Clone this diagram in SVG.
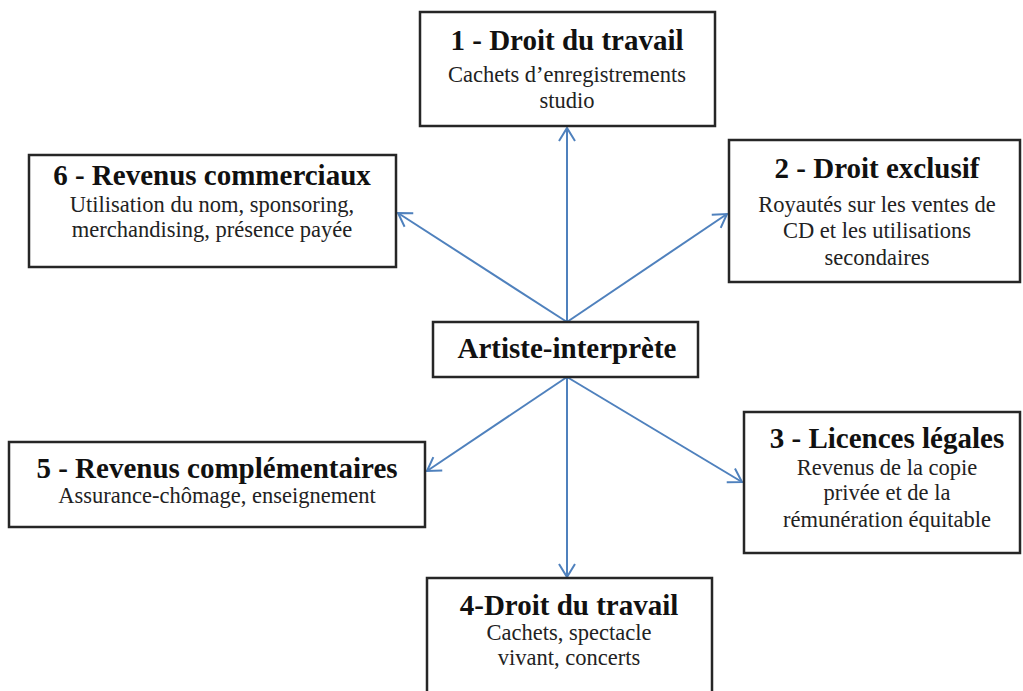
<svg xmlns="http://www.w3.org/2000/svg" width="1023" height="691" viewBox="0 0 1023 691">
<style>
.box{fill:#fff;stroke:#262626;stroke-width:2.5}
.t{font-family:"Liberation Serif","Times New Roman",serif;font-weight:bold;font-size:29px;fill:#111;text-anchor:middle}
.b{font-family:"Liberation Serif","Times New Roman",serif;font-size:22.5px;fill:#222;text-anchor:middle}
.c{stroke:#4f81bd;stroke-width:2;fill:none}
</style>
<defs>
<marker id="ah" markerUnits="userSpaceOnUse" markerWidth="20" markerHeight="20" viewBox="-14 -10 16 20" refX="0" refY="0" orient="auto">
<path d="M-13,-8 L0,0 L-13,8" fill="none" stroke="#4f81bd" stroke-width="2"/>
</marker>
</defs>
<rect width="1023" height="691" fill="#fff"/>
<g id="connectors">
<line class="c" x1="567" y1="322" x2="567" y2="128" marker-end="url(#ah)"/>
<line class="c" x1="567" y1="322" x2="727" y2="214" marker-end="url(#ah)"/>
<line class="c" x1="567" y1="322" x2="398" y2="213" marker-end="url(#ah)"/>
<line class="c" x1="567" y1="377" x2="427" y2="471" marker-end="url(#ah)"/>
<line class="c" x1="567" y1="377" x2="742" y2="482" marker-end="url(#ah)"/>
<line class="c" x1="567" y1="377" x2="567" y2="577" marker-end="url(#ah)"/>
</g>
<g id="node1">
<rect class="box" x="420" y="12" width="295" height="114"/>
<text class="t" x="567" y="50">1 - Droit du travail</text>
<text class="b" x="567" y="82">Cachets d’enregistrements</text>
<text class="b" x="567" y="108">studio</text>
</g>
<g id="node2">
<rect class="box" x="729" y="140" width="291" height="142"/>
<text class="t" x="877" y="178">2 - Droit exclusif</text>
<text class="b" x="877" y="212">Royautés sur les ventes de</text>
<text class="b" x="877" y="238">CD et les utilisations</text>
<text class="b" x="877" y="265">secondaires</text>
</g>
<g id="node6">
<rect class="box" x="29" y="155" width="367" height="112"/>
<text class="t" x="212" y="185">6 - Revenus commerciaux</text>
<text class="b" x="212" y="212">Utilisation du nom, sponsoring,</text>
<text class="b" x="212" y="237">merchandising, présence payée</text>
</g>
<g id="center">
<rect class="box" x="433" y="322" width="265" height="55"/>
<text class="t" x="567" y="358">Artiste-interprète</text>
</g>
<g id="node5">
<rect class="box" x="9" y="442" width="416" height="85"/>
<text class="t" x="217" y="478">5 - Revenus complémentaires</text>
<text class="b" x="217" y="503">Assurance-chômage, enseignement</text>
</g>
<g id="node3">
<rect class="box" x="744" y="412" width="276" height="141"/>
<text class="t" x="887" y="448">3 - Licences légales</text>
<text class="b" x="887" y="475">Revenus de la copie</text>
<text class="b" x="887" y="500">privée et de la</text>
<text class="b" x="887" y="527">rémunération équitable</text>
</g>
<g id="node4">
<rect class="box" x="427" y="578" width="285" height="130"/>
<text class="t" x="569" y="615">4-Droit du travail</text>
<text class="b" x="569" y="640">Cachets, spectacle</text>
<text class="b" x="569" y="665">vivant, concerts</text>
</g>
</svg>
